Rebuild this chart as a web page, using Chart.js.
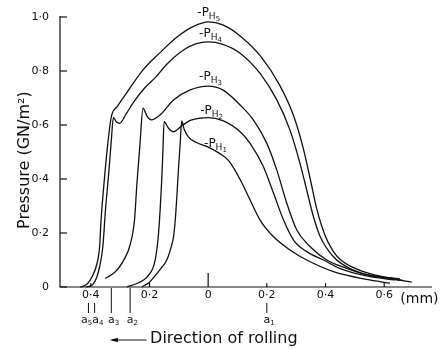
<!DOCTYPE html>
<html><head><meta charset="utf-8">
<script src="https://cdn.jsdelivr.net/npm/chart.js@4"></script>
<style>html,body{margin:0;padding:0;background:#fff;}#wrap{width:441px;height:350px;position:relative;}</style>
</head><body><div id="wrap"><canvas id="c"></canvas></div>
<script>
// ---- data (mm, GN/m^2) ----
const xTicks = [-0.4, -0.2, 0, 0.2, 0.4, 0.6];
const xTickLabels = ['0·4', '0·2', '0', '0·2', '0·4', '0·6'];
const yTicks = [0, 0.2, 0.4, 0.6, 0.8, 1.0];
const yTickLabels = ['0', '0·2', '0·4', '0·6', '0·8', '1·0'];
const contactEdges = [-0.408, -0.387, -0.33, -0.266, 0.2];
const contactNames = ['5', '4', '3', '2', '1'];
const seriesNames = ['5', '4', '3', '2', '1'];

const h5X = [-0.436,-0.425,-0.41,-0.395,-0.382,-0.37,-0.365,-0.353,-0.342,-0.33,-0.31,-0.279,-0.222,-0.164,-0.107,-0.05,0,0.05,0.109,0.18,0.245,0.291,0.325,0.348,0.37,0.399,0.438,0.48,0.54,0.631,0.694];
const h5Y = [0,0.003,0.014,0.04,0.075,0.149,0.248,0.408,0.532,0.631,0.668,0.717,0.804,0.868,0.925,0.965,0.982,0.971,0.93,0.853,0.745,0.635,0.51,0.4,0.29,0.19,0.115,0.08,0.053,0.03,0.018];

const h4X = [-0.415,-0.403,-0.393,-0.38,-0.37,-0.359,-0.35,-0.338,-0.33,-0.323,-0.313,-0.302,-0.28,-0.257,-0.218,-0.177,-0.141,-0.084,-0.04,0,0.05,0.109,0.177,0.234,0.279,0.313,0.336,0.359,0.382,0.427,0.48,0.54,0.6,0.665];
const h4Y = [0,0.003,0.01,0.035,0.075,0.149,0.285,0.433,0.544,0.628,0.612,0.606,0.64,0.68,0.735,0.779,0.825,0.878,0.901,0.908,0.899,0.866,0.791,0.693,0.581,0.458,0.359,0.26,0.186,0.112,0.07,0.046,0.033,0.024];

const h3X = [-0.351,-0.334,-0.318,-0.302,-0.285,-0.268,-0.251,-0.243,-0.233,-0.222,-0.208,-0.194,-0.164,-0.118,-0.061,0,0.05,0.109,0.154,0.2,0.234,0.268,0.302,0.348,0.404,0.47,0.54,0.654];
const h3Y = [0.032,0.042,0.055,0.075,0.105,0.149,0.248,0.38,0.52,0.662,0.632,0.619,0.637,0.693,0.73,0.744,0.73,0.674,0.619,0.532,0.433,0.31,0.211,0.149,0.1,0.07,0.046,0.03];

const h2X = [-0.277,-0.245,-0.22,-0.2,-0.185,-0.175,-0.169,-0.164,-0.159,-0.155,-0.15,-0.135,-0.118,-0.09,-0.061,-0.03,0,0.05,0.109,0.143,0.188,0.223,0.257,0.291,0.336,0.393,0.45,0.54,0.637];
const h2Y = [0,0.012,0.026,0.048,0.08,0.137,0.2,0.28,0.38,0.48,0.612,0.588,0.575,0.597,0.617,0.625,0.627,0.616,0.575,0.532,0.446,0.347,0.248,0.174,0.131,0.1,0.068,0.041,0.026];

const h1X = [-0.226,-0.2,-0.186,-0.16,-0.141,-0.127,-0.118,-0.112,-0.107,-0.101,-0.096,-0.09,-0.082,-0.067,-0.04,0,0.04,0.07,0.109,0.143,0.177,0.223,0.279,0.336,0.427,0.54,0.62];
const h1Y = [0,0.018,0.035,0.07,0.1,0.145,0.186,0.25,0.33,0.44,0.52,0.615,0.585,0.555,0.535,0.518,0.494,0.468,0.398,0.322,0.248,0.186,0.137,0.1,0.057,0.028,0.014];

const seriesX = [h5X, h4X, h3X, h2X, h1X];
const seriesY = [h5Y, h4Y, h3Y, h2Y, h1Y];

// ---- presentation ----
const FONT = '"DejaVu Sans", sans-serif';
const INK = '#111';
const labelAnchors = [[-0.037, 1.018], [-0.031, 0.94], [-0.031, 0.781], [-0.027, 0.656], [-0.014, 0.533]];
const contactLabelShift = [-4, 1, 0, 0, 0];

function drawSubLabel(ctx, x, y, main, sub, subsub) {
  ctx.textBaseline = 'alphabetic';
  ctx.textAlign = 'left';
  ctx.font = '12px ' + FONT;
  ctx.fillText(main, x, y);
  let w = ctx.measureText(main).width;
  ctx.font = '9px ' + FONT;
  ctx.fillText(sub, x + w, y + 3);
  let w2 = ctx.measureText(sub).width;
  if (subsub) {
    ctx.font = '7px ' + FONT;
    ctx.fillText(subsub, x + w + w2, y + 5);
  }
}

const decor = {
  id: 'decor',
  afterDraw(chart) {
    const ctx = chart.ctx, xs = chart.scales.x, ys = chart.scales.y;
    const left = xs.left, right = xs.right, y0 = ys.getPixelForValue(0), yTop = ys.getPixelForValue(1.0);
    ctx.save();
    ctx.strokeStyle = INK; ctx.fillStyle = INK; ctx.lineWidth = 1.2;
    // axes
    ctx.beginPath();
    ctx.moveTo(left, yTop - 1); ctx.lineTo(left, y0);
    ctx.lineTo(right, y0);
    ctx.stroke();
    // y ticks
    ctx.font = '11px ' + FONT; ctx.textAlign = 'right'; ctx.textBaseline = 'middle';
    yTicks.forEach((v, i) => {
      const py = ys.getPixelForValue(v);
      ctx.beginPath(); ctx.moveTo(left, py); ctx.lineTo(left + 7, py); ctx.stroke();
      ctx.fillText(yTickLabels[i], left - 11, py);
    });
    // x ticks
    ctx.textAlign = 'center'; ctx.textBaseline = 'top';
    xTicks.forEach((v, i) => {
      const px = xs.getPixelForValue(v);
      ctx.beginPath(); ctx.moveTo(px, y0); ctx.lineTo(px, y0 - (v === 0 ? 14 : 4)); ctx.stroke();
      ctx.fillText(xTickLabels[i], px, y0 + 3);
    });
    // (mm)
    ctx.font = '14px ' + FONT; ctx.textAlign = 'left'; ctx.textBaseline = 'middle';
    ctx.fillText('(mm)', xs.getPixelForValue(0.655), y0 + 12);
    // y title
    ctx.save();
    ctx.translate(25, ys.getPixelForValue(0.47));
    ctx.rotate(-Math.PI / 2);
    ctx.font = '16px ' + FONT; ctx.textAlign = 'center'; ctx.textBaseline = 'middle';
    ctx.fillText('Pressure (GN/m²)', 0, 0);
    ctx.restore();
    // contact edge markers
    ctx.lineWidth = 1;
    contactEdges.forEach((v, i) => {
      const px = xs.getPixelForValue(v);
      const long = (contactNames[i] === '3' || contactNames[i] === '2');
      ctx.beginPath(); ctx.moveTo(px, long ? y0 + 1 : y0 + 16); ctx.lineTo(px, y0 + 26); ctx.stroke();
      ctx.font = '11px ' + FONT;
      const aw = ctx.measureText('a').width;
      const lx = px - aw / 2 + contactLabelShift[i];
      ctx.textAlign = 'left'; ctx.textBaseline = 'alphabetic';
      ctx.fillText('a', lx, y0 + 36);
      ctx.font = '7px ' + FONT;
      ctx.fillText(contactNames[i], lx + aw, y0 + 38);
    });
    // direction arrow
    const ay = y0 + 53;
    const ax1 = xs.getPixelForValue(-0.335), ax2 = xs.getPixelForValue(-0.21);
    ctx.lineWidth = 1;
    ctx.beginPath(); ctx.moveTo(ax1 + 2, ay); ctx.lineTo(ax2, ay); ctx.stroke();
    ctx.beginPath(); ctx.moveTo(ax1, ay); ctx.lineTo(ax1 + 8, ay - 2.2); ctx.lineTo(ax1 + 8, ay + 2.2); ctx.closePath(); ctx.fill();
    ctx.font = '16px ' + FONT; ctx.textAlign = 'left'; ctx.textBaseline = 'middle';
    ctx.fillText('Direction of rolling', xs.getPixelForValue(-0.198), ay - 1);
    // curve labels
    seriesNames.forEach((n, i) => {
      const [lx, ly] = labelAnchors[i];
      drawSubLabel(ctx, xs.getPixelForValue(lx), ys.getPixelForValue(ly) + 4, '-P', 'H', n);
    });
    ctx.restore();
  }
};

const datasets = seriesX.map((xsArr, i) => ({
  label: 'P_H' + seriesNames[i],
  data: xsArr.map((x, j) => ({ x: x, y: seriesY[i][j] })),
  showLine: true,
  borderColor: INK,
  borderWidth: 1.3,
  pointRadius: 0,
  fill: false,
  cubicInterpolationMode: 'monotone',
  clip: false
}));

new Chart(document.getElementById('c'), {
  type: 'scatter',
  data: { datasets },
  options: {
    responsive: true,
    maintainAspectRatio: false,
    animation: false,
    layout: { padding: { left: 60, right: 9, top: 17, bottom: 63 } },
    scales: {
      x: { type: 'linear', min: -0.505, max: 0.763, display: false },
      y: { type: 'linear', min: 0, max: 1.0, display: false }
    },
    plugins: { legend: { display: false }, tooltip: { enabled: false } }
  },
  plugins: [decor]
});
</script>
</body></html>
